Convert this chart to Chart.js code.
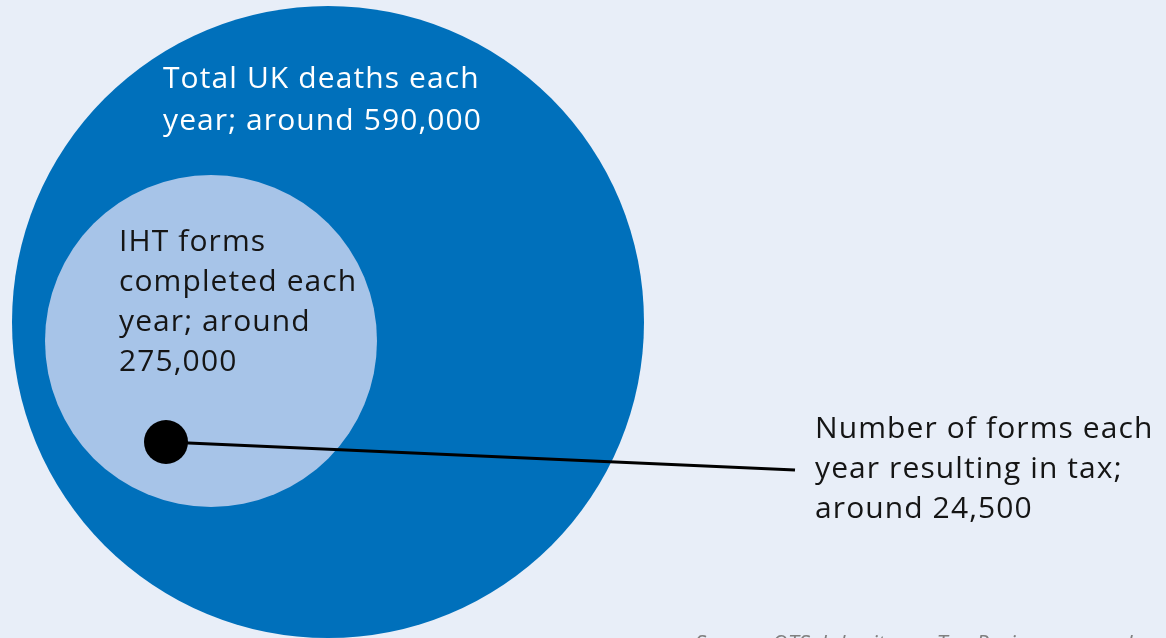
<!DOCTYPE html>
<html>
<head>
<meta charset="utf-8">
<script src="https://cdn.jsdelivr.net/npm/chart.js@4.4.1/dist/chart.umd.min.js"></script>
<style>
  html, body { margin: 0; padding: 0; background: #e8eef8; }
  #wrap { width: 1166px; height: 638px; position: relative; }
</style>
</head>
<body>
<div id="wrap"><canvas id="circleChart" width="1166" height="638"></canvas></div>
<script>
// nested circles (pixel space of the original)
var circleNames = ['Total UK deaths', 'IHT forms completed', 'Forms resulting in tax'];
var circleValues = [590000, 275000, 24500];
var circleX = [328, 211, 166];
var circleY = [322, 341, 442];
var circleR = [316, 166, 22];

// leader line from the small dot to the right-hand label
var leaderX = [166, 795];
var leaderY = [442, 470];

var labelLines = [
    ['Total UK deaths each', 'year; around 590,000'],
    ['IHT forms', 'completed each', 'year; around', '275,000'],
    ['Number of forms each', 'year resulting in tax;', 'around 24,500']
];
var sourceText = 'Source: OTS, Inheritance Tax Review \u2013 second report';

var fills = ['#0070bb', '#a7c4e8', '#000000'];

// text is placed by hand, like the original slide (alphabetic baselines)
var textPlugin = {
    id: 'slideText',
    afterDatasetsDraw: function(chart) {
        var ctx = chart.ctx;
        var sx = chart.scales.x, sy = chart.scales.y;
        ctx.save();
        ctx.textBaseline = 'alphabetic';
        ctx.textAlign = 'left';
        ctx.font = '30px "Open Sans"';
        ctx.letterSpacing = '1.1px';
        var spots = [
            { x: 163, y: 88, gap: 42, color: '#ffffff' },
            { x: 119, y: 251, gap: 40, color: '#151515' },
            { x: 815, y: 438, gap: 40, color: '#151515' }
        ];
        for (var i = 0; i < labelLines.length; i++) {
            ctx.fillStyle = spots[i].color;
            for (var j = 0; j < labelLines[i].length; j++) {
                ctx.fillText(labelLines[i][j], sx.getPixelForValue(spots[i].x), sy.getPixelForValue(spots[i].y + j * spots[i].gap));
            }
        }
        ctx.letterSpacing = '0px';
        ctx.font = 'italic 22px "Open Sans"';
        ctx.fillStyle = '#808080';
        ctx.fillText(sourceText, 695, 651);
        ctx.restore();
    }
};

var bubbles = [];
for (var i = 0; i < circleNames.length; i++) {
    bubbles.push({
        type: 'bubble',
        label: circleNames[i] + ' (' + circleValues[i] + ')',
        data: [{ x: circleX[i], y: circleY[i], r: circleR[i] }],
        backgroundColor: fills[i],
        borderWidth: 0,
        hoverRadius: 0,
        clip: false,
        order: 10 - i
    });
}

var lineSet = {
    type: 'line',
    label: 'leader',
    data: leaderX.map(function(x, k) { return { x: x, y: leaderY[k] }; }),
    borderColor: '#000000',
    borderWidth: 3,
    pointRadius: 0,
    fill: false,
    clip: false,
    order: 1
};

var ctx = document.getElementById('circleChart');
var circleChart = new Chart(ctx, {
    type: 'bubble',
    data: { datasets: [lineSet].concat(bubbles) },
    options: {
        responsive: false,
        animation: false,
        // the big bubble would otherwise push the chart area inwards
        layout: { padding: 0, autoPadding: false },
        plugins: { legend: { display: false }, tooltip: { enabled: false } },
        scales: {
            x: { type: 'linear', min: 0, max: 1166, display: false },
            y: { type: 'linear', min: 0, max: 638, reverse: true, display: false }
        }
    },
    plugins: [textPlugin]
});
</script>
</body>
</html>
